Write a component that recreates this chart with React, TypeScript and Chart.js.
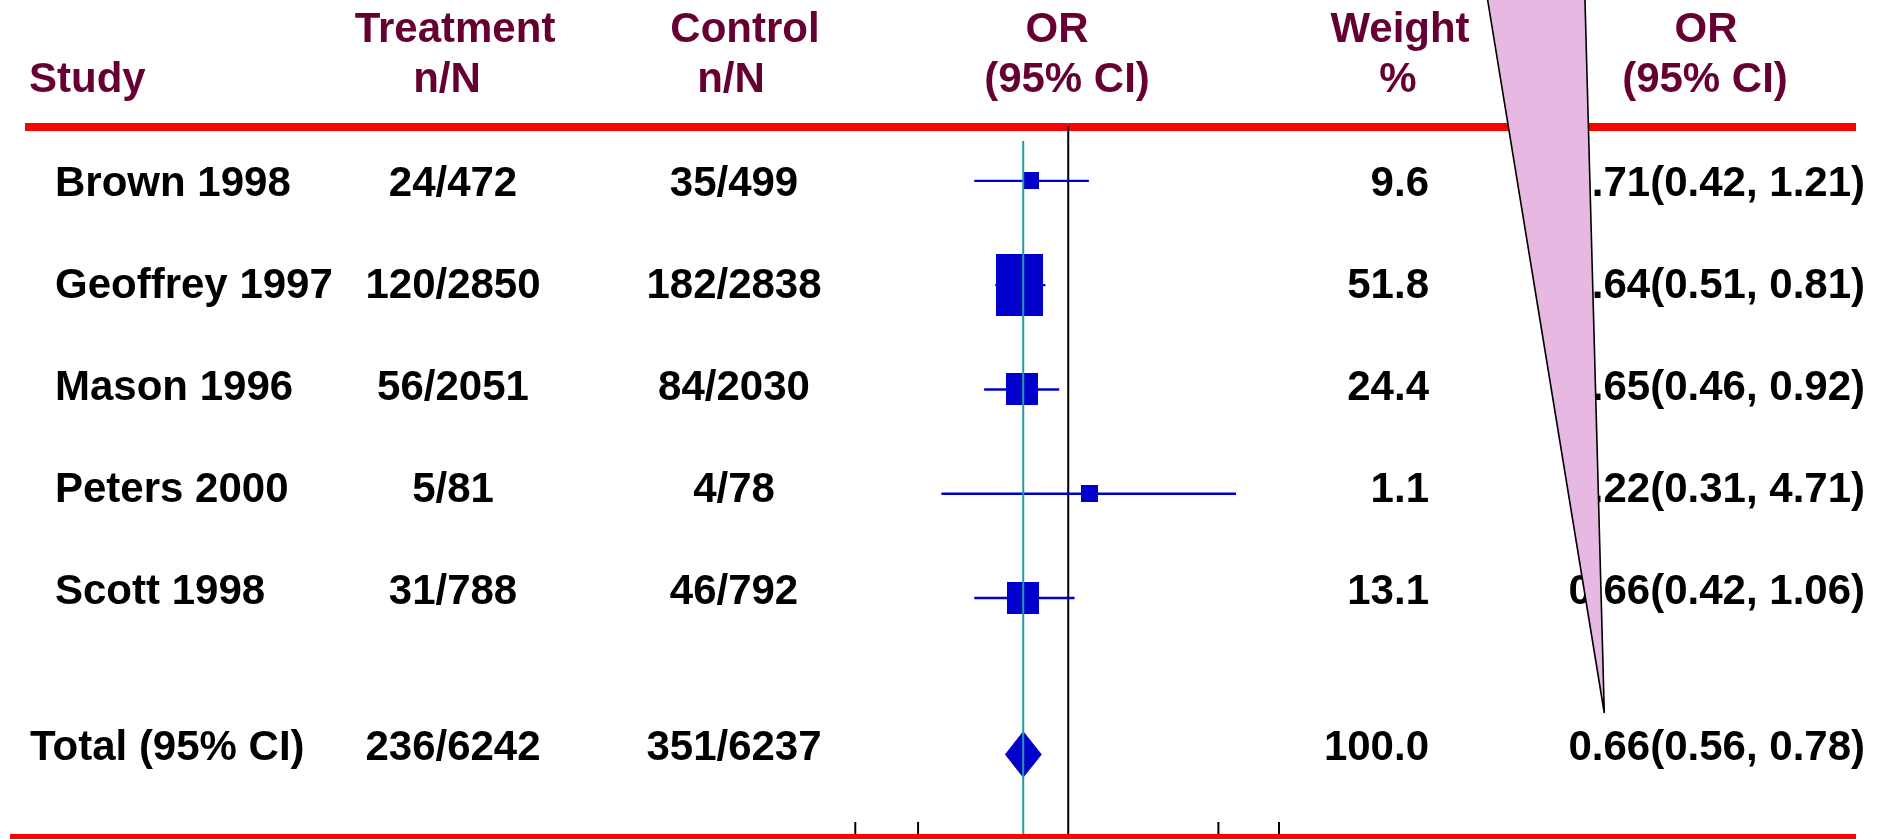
import React, { useEffect, useRef } from "react";
import { Chart, registerables } from "chart.js";

Chart.register(...registerables);

// ---------------- data ----------------
const STUDIES = ["Brown 1998", "Geoffrey 1997", "Mason 1996", "Peters 2000", "Scott 1998"];
const TREAT_EVENTS = [24, 120, 56, 5, 31];
const TREAT_TOTAL = [472, 2850, 2051, 81, 788];
const CTRL_EVENTS = [35, 182, 84, 4, 46];
const CTRL_TOTAL = [499, 2838, 2030, 78, 792];
const WEIGHTS = [9.6, 51.8, 24.4, 1.1, 13.1];
const OR = [0.71, 0.64, 0.65, 1.22, 0.66];
const OR_LOW = [0.42, 0.51, 0.46, 0.31, 0.42];
const OR_HIGH = [1.21, 0.81, 0.92, 4.71, 1.06];

const TOTAL_LABEL = "Total (95% CI)";
const TOTAL_TREAT = [236, 6242];
const TOTAL_CTRL = [351, 6237];
const TOTAL_WEIGHT = 100.0;
const TOTAL_OR = [0.66, 0.56, 0.78]; // OR, low, high

const NULL_OR = 1;
const AXIS_TICKS = [0.14, 0.25, 4, 7];

const HEADER_LINE1 = ["", "Treatment", "Control", "OR", "Weight", "OR"];
const HEADER_LINE2 = ["Study", "n/N", "n/N", "(95% CI)", "%", "(95% CI)"];

// ---------------- layout / style ----------------
const W = 1896;
const H = 839;
const X_ONE_PX = 1069;
const PX_PER_DECADE = 251;
const X_MIN = Math.pow(10, -X_ONE_PX / PX_PER_DECADE);
const X_MAX = Math.pow(10, (W - X_ONE_PX) / PX_PER_DECADE);
const ROW0_PX = 177.4;
const ROW_STEP_PX = 105.8;
const Y_MIN = -ROW0_PX / ROW_STEP_PX;
const Y_MAX = Y_MIN + H / ROW_STEP_PX;
const TOTAL_ROW = 5.5;
const DIAMOND_HALF = 23 / ROW_STEP_PX;

const BOX_W = [15, 47, 32, 17, 32];
const BOX_H = [17, 62, 32, 17, 32];

const FONT = 'bold 42px "Liberation Sans", Arial, Helvetica, sans-serif';
const HEADER_COLOR = "#660033";
const TEXT_COLOR = "#000000";
const BLUE = "#0000CC";
const TEAL = "#1F9E9E";
const RED = "#FF0000";
const WEDGE = "#E6B8E2";

const HEAD_Y1 = 42;
const HEAD_Y2 = 92;
const HEAD_X1 = [0, 455, 745, 1057, 1400, 1706];
const HEAD_X2 = [29, 447, 731, 1067, 1398, 1705];

const ROW_TEXT_Y0 = 196;
const ROW_TEXT_STEP = 102.1;
const TOTAL_TEXT_Y = 760;
const STUDY_X = 55;
const TOTAL_X = 30;
const TREAT_X = 453;
const CTRL_X = 734;
const WEIGHT_RIGHT = 1429;
const OR_RIGHT = 1865;

const fmtOR = (o: number, l: number, h: number) =>
  `${o.toFixed(2)}(${l.toFixed(2)}, ${h.toFixed(2)})`;

const tablePlugin = {
  id: "forestTable",
  beforeDatasetsDraw(chart: any) {
    const ctx = chart.ctx as CanvasRenderingContext2D;
    const xs = chart.scales.x;
    ctx.save();
    ctx.fillStyle = RED;
    ctx.fillRect(25, 123, 1831, 8);
    ctx.fillRect(10, 834, 1846, 8);
    // null line
    const x1 = xs.getPixelForValue(NULL_OR);
    ctx.strokeStyle = "#000";
    ctx.lineWidth = 2;
    ctx.beginPath();
    ctx.moveTo(x1, 126);
    ctx.lineTo(x1, 834);
    ctx.stroke();
    // ticks
    ctx.lineWidth = 2;
    AXIS_TICKS.forEach((t) => {
      const x = xs.getPixelForValue(t);
      ctx.beginPath();
      ctx.moveTo(x, 822);
      ctx.lineTo(x, 834);
      ctx.stroke();
    });
    ctx.restore();
  },
  afterDatasetsDraw(chart: any) {
    const ctx = chart.ctx as CanvasRenderingContext2D;
    const xs = chart.scales.x;
    const x = xs.getPixelForValue(TOTAL_OR[0]);
    ctx.save();
    ctx.strokeStyle = TEAL;
    ctx.lineWidth = 2;
    ctx.beginPath();
    ctx.moveTo(x, 141);
    ctx.lineTo(x, 834);
    ctx.stroke();
    ctx.restore();
  },
  afterDraw(chart: any) {
    const ctx = chart.ctx as CanvasRenderingContext2D;
    ctx.save();
    ctx.font = FONT;
    ctx.textBaseline = "alphabetic";
    // headers
    ctx.fillStyle = HEADER_COLOR;
    HEADER_LINE1.forEach((s, i) => {
      if (!s) return;
      ctx.textAlign = "center";
      ctx.fillText(s, HEAD_X1[i], HEAD_Y1);
    });
    HEADER_LINE2.forEach((s, i) => {
      ctx.textAlign = i === 0 ? "left" : "center";
      ctx.fillText(s, HEAD_X2[i], HEAD_Y2);
    });
    // rows
    ctx.fillStyle = TEXT_COLOR;
    STUDIES.forEach((s, i) => {
      const y = ROW_TEXT_Y0 + i * ROW_TEXT_STEP;
      ctx.textAlign = "left";
      ctx.fillText(s, STUDY_X, y);
      ctx.textAlign = "center";
      ctx.fillText(`${TREAT_EVENTS[i]}/${TREAT_TOTAL[i]}`, TREAT_X, y);
      ctx.fillText(`${CTRL_EVENTS[i]}/${CTRL_TOTAL[i]}`, CTRL_X, y);
      ctx.textAlign = "right";
      ctx.fillText(WEIGHTS[i].toFixed(1), WEIGHT_RIGHT, y);
      ctx.fillText(fmtOR(OR[i], OR_LOW[i], OR_HIGH[i]), OR_RIGHT, y);
    });
    const ty = TOTAL_TEXT_Y;
    ctx.textAlign = "left";
    ctx.fillText(TOTAL_LABEL, TOTAL_X, ty);
    ctx.textAlign = "center";
    ctx.fillText(`${TOTAL_TREAT[0]}/${TOTAL_TREAT[1]}`, TREAT_X, ty);
    ctx.fillText(`${TOTAL_CTRL[0]}/${TOTAL_CTRL[1]}`, CTRL_X, ty);
    ctx.textAlign = "right";
    ctx.fillText(TOTAL_WEIGHT.toFixed(1), WEIGHT_RIGHT, ty);
    ctx.fillText(fmtOR(TOTAL_OR[0], TOTAL_OR[1], TOTAL_OR[2]), OR_RIGHT, ty);
    // callout wedge
    ctx.beginPath();
    ctx.moveTo(1486, -10);
    ctx.lineTo(1584.7, -10);
    ctx.lineTo(1604.3, 713);
    ctx.closePath();
    ctx.fillStyle = WEDGE;
    ctx.fill();
    ctx.strokeStyle = "#000";
    ctx.lineWidth = 1.6;
    ctx.lineJoin = "miter";
    ctx.stroke();
    ctx.restore();
  },
};

export default function App() {
  const ref = useRef<HTMLCanvasElement>(null);
  useEffect(() => {
    const canvas = ref.current;
    if (!canvas) return;
    const boxImgs = BOX_W.map((w, i) => {
      const c = document.createElement("canvas");
      c.width = w;
      c.height = BOX_H[i];
      const g = c.getContext("2d")!;
      g.fillStyle = BLUE;
      g.fillRect(0, 0, w, BOX_H[i]);
      return c;
    });

    const ciSets = STUDIES.map((s, i) => ({
      label: s,
      data: [
        { x: OR_LOW[i], y: i },
        { x: OR_HIGH[i], y: i },
      ],
      showLine: true,
      borderColor: BLUE,
      backgroundColor: BLUE,
      borderWidth: 2.4,
      pointRadius: 0,
      fill: false,
    }));

    const boxSet = {
      label: "OR",
      data: OR.map((v, i) => ({ x: v, y: i })),
      showLine: false,
      pointStyle: boxImgs as any,
      pointRadius: 5,
      borderColor: BLUE,
      backgroundColor: BLUE,
    };

    const tr = TOTAL_ROW;
    const diamondSet = {
      label: "Total",
      data: [
        { x: TOTAL_OR[1], y: tr },
        { x: TOTAL_OR[0], y: tr - DIAMOND_HALF },
        { x: TOTAL_OR[2], y: tr },
        { x: TOTAL_OR[0], y: tr + DIAMOND_HALF },
        { x: TOTAL_OR[1], y: tr },
      ],
      showLine: true,
      fill: "shape",
      borderColor: BLUE,
      backgroundColor: BLUE,
      borderWidth: 1,
      pointRadius: 0,
      tension: 0,
    };

    const chart = new Chart(canvas, {
      type: "scatter",
      data: { datasets: [...ciSets, boxSet, diamondSet] as any },
      options: {
        animation: false,
        responsive: false,
        events: [],
        layout: { padding: 0 },
        plugins: {
          legend: { display: false },
          tooltip: { enabled: false },
          title: { display: false },
        },
        scales: {
          x: {
            type: "logarithmic",
            display: false,
            min: X_MIN,
            max: X_MAX,
            bounds: "data",
          },
          y: {
            type: "linear",
            display: false,
            reverse: true,
            min: Y_MIN,
            max: Y_MAX,
            bounds: "data",
          },
        },
      } as any,
      plugins: [tablePlugin as any],
    });
    return () => chart.destroy();
  }, []);

  return (
    <div
      style={{
        position: "absolute",
        left: 0,
        top: 0,
        width: W,
        height: H,
        background: "#ffffff",
        overflow: "hidden",
      }}
    >
      <canvas ref={ref} width={W} height={H} style={{ display: "block" }} />
    </div>
  );
}
